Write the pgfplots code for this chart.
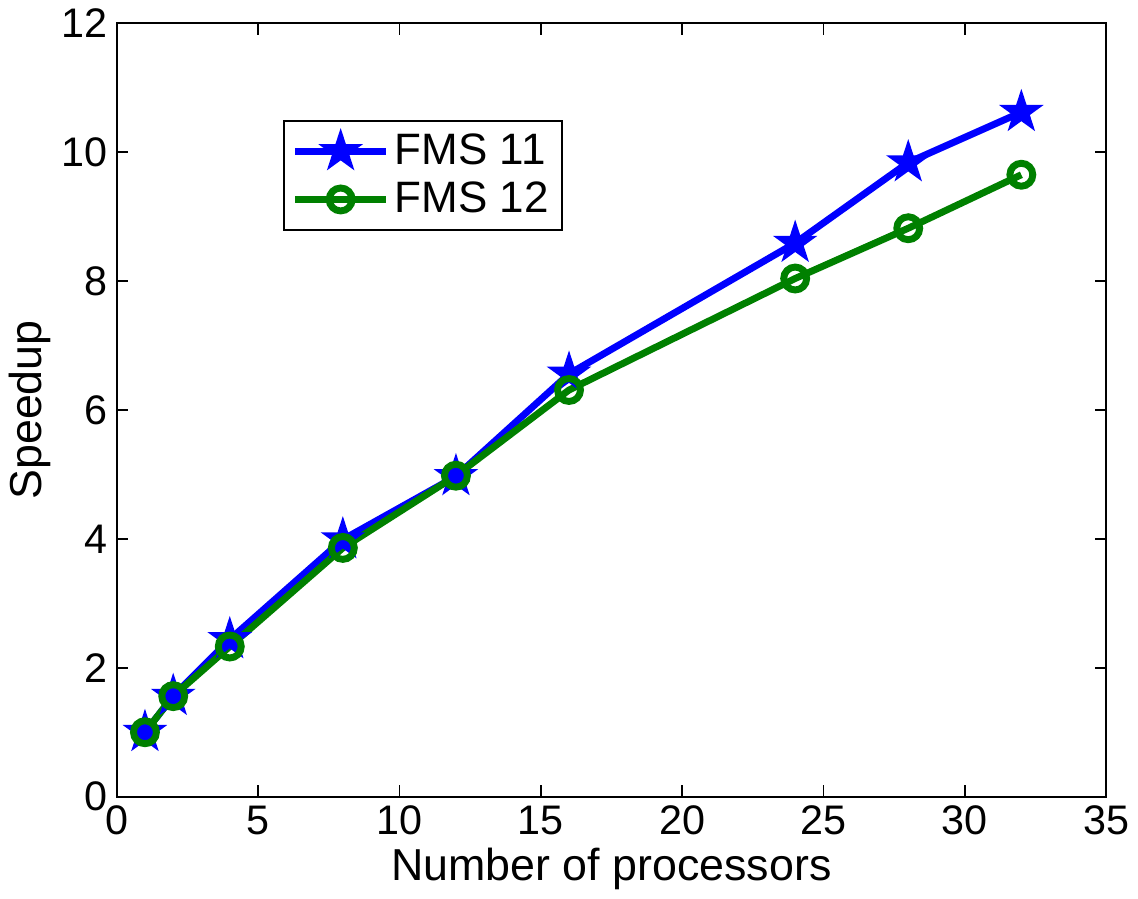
\documentclass[border=0pt]{standalone}
\usepackage{fontspec}
\setmainfont{Liberation Sans}
\usepackage{pgfplots}
\pgfplotsset{compat=1.18}
\definecolor{mblue}{rgb}{0,0,1}
\definecolor{mgreen}{rgb}{0,0.5,0}
% MATLAB-like filled five point star
\pgfdeclareplotmark{pentagram}{%
  \pgfpathmoveto{\pgfpointpolar{90}{\pgfplotmarksize}}%
  \pgfpathlineto{\pgfpointpolar{126}{0.382\pgfplotmarksize}}%
  \pgfpathlineto{\pgfpointpolar{162}{\pgfplotmarksize}}%
  \pgfpathlineto{\pgfpointpolar{198}{0.382\pgfplotmarksize}}%
  \pgfpathlineto{\pgfpointpolar{234}{\pgfplotmarksize}}%
  \pgfpathlineto{\pgfpointpolar{270}{0.382\pgfplotmarksize}}%
  \pgfpathlineto{\pgfpointpolar{306}{\pgfplotmarksize}}%
  \pgfpathlineto{\pgfpointpolar{342}{0.382\pgfplotmarksize}}%
  \pgfpathlineto{\pgfpointpolar{18}{\pgfplotmarksize}}%
  \pgfpathlineto{\pgfpointpolar{54}{0.382\pgfplotmarksize}}%
  \pgfpathclose
  \pgfusepathqfillstroke
}
\begin{document}
\begin{tikzpicture}
\begin{axis}[
  width=13.05cm, height=10.2cm,
  scale only axis,
  xmin=0, xmax=35, ymin=0, ymax=12,
  xtick={0,5,...,35}, ytick={0,2,...,12},
  tick align=inside,
  major tick length=0.15cm,
  tick style={black, line width=0.6pt},
  axis line style={line width=0.8pt},
  xticklabel style={/pgf/number format/assume math mode=true},
  yticklabel style={/pgf/number format/assume math mode=true},
  tick label style={font=\fontsize{15.5}{18}\selectfont},
  label style={font=\fontsize{16.8}{20}\selectfont},
  xlabel={Number of processors},
  ylabel={Speedup},
  xlabel style={yshift=0.08cm},
  ylabel style={yshift=-0.1cm},
  legend style={at={(0.168,0.875)}, anchor=north west, draw=black,
    line width=0.6pt, font=\fontsize{16.5}{19}\selectfont,
    inner sep=3pt, row sep=1pt},
  legend cell align=left,
  legend image code/.code={%
    \draw[mark repeat=2,mark phase=2,#1]
      plot coordinates {(0cm,0cm) (0.6cm,0cm) (1.2cm,0cm)};},
]
\addplot[color=mblue, line width=2.6pt, mark=pentagram, mark size=7.5pt,
  mark options={solid, fill=mblue, line width=0.8pt}] coordinates {
  (1,1.0) (2,1.56) (4,2.44) (8,3.99) (12,4.97) (16,6.56) (24,8.59) (28,9.84) (32,10.62)
};
\addlegendentry{FMS 11}
\addplot[color=mgreen, line width=2.6pt, mark=o, mark size=4.3pt,
  mark options={solid}] coordinates {
  (1,1.0) (2,1.56) (4,2.33) (8,3.86) (12,4.98) (16,6.31) (24,8.04) (28,8.82) (32,9.65)
};
\addlegendentry{FMS 12}
\end{axis}
\end{tikzpicture}
\end{document}
